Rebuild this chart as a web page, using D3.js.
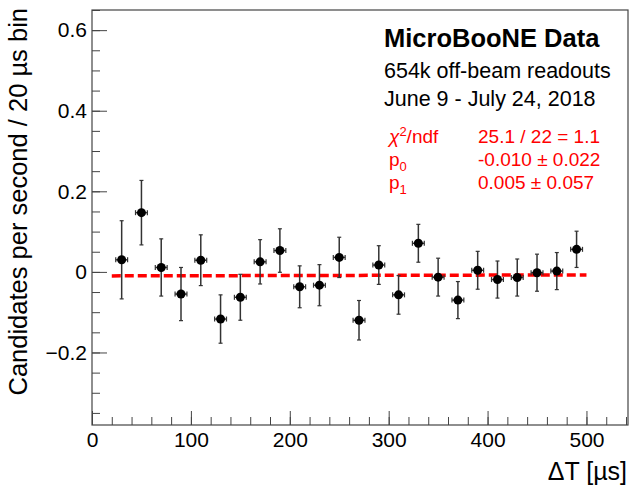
<!DOCTYPE html>
<html>
<head>
<meta charset="utf-8">
<script src="https://cdn.jsdelivr.net/npm/d3@7"></script>
<style>
  body { margin: 0; background: #fff; }
  text { font-family: "Liberation Sans", Arial, Helvetica, sans-serif; }
</style>
</head>
<body>
<div id="chart"></div>
<script>
// bin centres (us), content and vertical error (candidates / s / 20 us bin)
const binCenters = [30, 50, 70, 90, 110, 130, 150, 170, 190, 210, 230, 250,
                    270, 290, 310, 330, 350, 370, 390, 410, 430, 450, 470, 490];
const rates = [0.030, 0.147, 0.011, -0.055, 0.029, -0.117, -0.063, 0.025, 0.053, -0.037, -0.033, 0.036,
               -0.120, 0.017, -0.057, 0.071, -0.013, -0.070, 0.004, -0.019, -0.014, -0.002, 0.002, 0.056];
const rateErrors = [0.097, 0.080, 0.071, 0.066, 0.063, 0.060, 0.057, 0.055, 0.054, 0.052, 0.051, 0.050,
                    0.049, 0.048, 0.048, 0.047, 0.047, 0.046, 0.047, 0.046, 0.046, 0.046, 0.046, 0.045];
const xError = 6;

// linear fit p0 + p1 * t[ms]
const fitRange = [20, 500];
const p0 = -0.010;
const p1 = 0.005;

const yTicks = [-0.2, 0, 0.2, 0.4, 0.6];
const xTicks = [0, 100, 200, 300, 400, 500];

const headerLines = ["654k off-beam readouts", "June 9 - July 24, 2018"];

const width = 629, height = 487;
const frame = { left: 92, right: 628, top: 10, bottom: 425 };

const svg = d3.select("#chart").append("svg")
    .attr("width", width)
    .attr("height", height);

const x = d3.scaleLinear().domain([0, 542]).range([frame.left, frame.right]);
const y = d3.scaleLinear().domain([-0.38, 0.65]).range([frame.bottom, frame.top]);

// fit line under the points
const fitPts = fitRange.map(t => [t, p0 + p1 * t / 1000]);
svg.append("path")
    .attr("d", d3.line().x(d => x(d[0])).y(d => y(d[1]))(fitPts))
    .attr("fill", "none")
    .attr("stroke", "#ff0000")
    .attr("stroke-width", 3.5)
    .attr("stroke-dasharray", "9,4");

// axes: ticks point inward like ROOT
const axisColor = "#444";

const yMinor = d3.range(-0.35, 0.651, 0.05).map(v => +v.toFixed(2));
svg.append("g")
    .attr("transform", `translate(${frame.left},0)`)
    .call(d3.axisLeft(y).tickValues(yMinor).tickSize(-8).tickSizeOuter(0).tickFormat(""))
    .call(g => g.select(".domain").remove());

const yAxis = svg.append("g")
    .attr("transform", `translate(${frame.left},0)`)
    .call(d3.axisLeft(y).tickValues(yTicks).tickSize(-15).tickSizeOuter(0).tickPadding(5)
        .tickFormat(d => d === 0 ? "0" : d3.format(".1f")(d)))
    .call(g => g.select(".domain").remove());
yAxis.selectAll("text").attr("font-size", 21).attr("fill", "#000");

const xMinor = d3.range(0, 541, 20);
svg.append("g")
    .attr("transform", `translate(0,${frame.bottom})`)
    .call(d3.axisBottom(x).tickValues(xMinor).tickSize(-8).tickSizeOuter(0).tickFormat(""))
    .call(g => g.select(".domain").remove());

const xAxis = svg.append("g")
    .attr("transform", `translate(0,${frame.bottom})`)
    .call(d3.axisBottom(x).tickValues(xTicks).tickSize(-14).tickSizeOuter(0).tickPadding(7))
    .call(g => g.select(".domain").remove());
xAxis.selectAll("text").attr("font-size", 21).attr("fill", "#000");

svg.selectAll(".tick line").attr("stroke", axisColor);

svg.append("rect")
    .attr("x", frame.left)
    .attr("y", frame.top)
    .attr("width", frame.right - frame.left)
    .attr("height", frame.bottom - frame.top)
    .attr("fill", "none")
    .attr("stroke", axisColor)
    .attr("stroke-width", 1.2);

// axis titles
svg.append("text")
    .attr("transform", `translate(27,8)rotate(-90)`)
    .attr("text-anchor", "end")
    .attr("font-size", 25.5)
    .text("Candidates per second / 20 \u00b5s bin");

svg.append("text")
    .attr("x", 627)
    .attr("y", 480)
    .attr("text-anchor", "end")
    .attr("font-size", 25)
    .text("\u0394T [\u00b5s]");

// data points with error bars
const data = binCenters.map((t, i) => ({ t: t, v: rates[i], e: rateErrors[i] }));
const errColor = "#333";
const pts = svg.append("g").selectAll("g")
    .data(data)
    .enter()
    .append("g");

pts.append("line")
    .attr("x1", d => x(d.t)).attr("x2", d => x(d.t))
    .attr("y1", d => y(d.v + d.e)).attr("y2", d => y(d.v - d.e))
    .attr("stroke", errColor).attr("stroke-width", 1.5);
pts.selectAll(".vcap")
    .data(d => [d.v + d.e, d.v - d.e].map(v => ({ t: d.t, v: v })))
    .enter().append("line")
    .attr("x1", d => x(d.t) - 2).attr("x2", d => x(d.t) + 2)
    .attr("y1", d => y(d.v)).attr("y2", d => y(d.v))
    .attr("stroke", errColor).attr("stroke-width", 1.2);
pts.append("line")
    .attr("x1", d => x(d.t - xError)).attr("x2", d => x(d.t + xError))
    .attr("y1", d => y(d.v)).attr("y2", d => y(d.v))
    .attr("stroke", errColor).attr("stroke-width", 1.5);
pts.selectAll(".hcap")
    .data(d => [d.t - xError, d.t + xError].map(t => ({ t: t, v: d.v })))
    .enter().append("line")
    .attr("x1", d => x(d.t)).attr("x2", d => x(d.t))
    .attr("y1", d => y(d.v) - 2.5).attr("y2", d => y(d.v) + 2.5)
    .attr("stroke", errColor).attr("stroke-width", 1.2);
pts.append("circle")
    .attr("cx", d => x(d.t))
    .attr("cy", d => y(d.v))
    .attr("r", 4.5)
    .attr("fill", "#000");

// header
svg.append("text")
    .attr("x", 384).attr("y", 47)
    .attr("font-size", 25.5)
    .attr("font-weight", "bold")
    .text("MicroBooNE Data");

svg.selectAll(".hdr")
    .data(headerLines)
    .enter().append("text")
    .attr("x", 384)
    .attr("y", (d, i) => 78 + i * 28)
    .attr("font-size", 21.5)
    .text(d => d);

// fit box
const red = "#ff0000";
const fitBox = svg.append("g").attr("fill", red).attr("font-size", 19);

const chi = fitBox.append("text").attr("x", 389).attr("y", 143);
chi.append("tspan").attr("font-style", "italic").text("\u03c7");
chi.append("tspan").attr("dy", -7).attr("font-size", 13).text("2");
chi.append("tspan").attr("dy", 7).text("/ndf");

const parNames = ["0", "1"];
const parValues = [
  `${d3.format(".3f")(p0).replace("\u2212", "-")} \u00b1 0.022`,
  `${d3.format(".3f")(p1)} \u00b1 0.057`
];

parNames.forEach((n, i) => {
  const t = fitBox.append("text").attr("x", 389).attr("y", 166 + i * 23);
  t.append("tspan").text("p");
  t.append("tspan").attr("dy", 5).attr("font-size", 13).text(n);
});

fitBox.append("text").attr("x", 478).attr("y", 143).text("25.1 / 22 = 1.1");
parValues.forEach((v, i) => {
  fitBox.append("text").attr("x", 478).attr("y", 166 + i * 23).text(v);
});
</script>
</body>
</html>
